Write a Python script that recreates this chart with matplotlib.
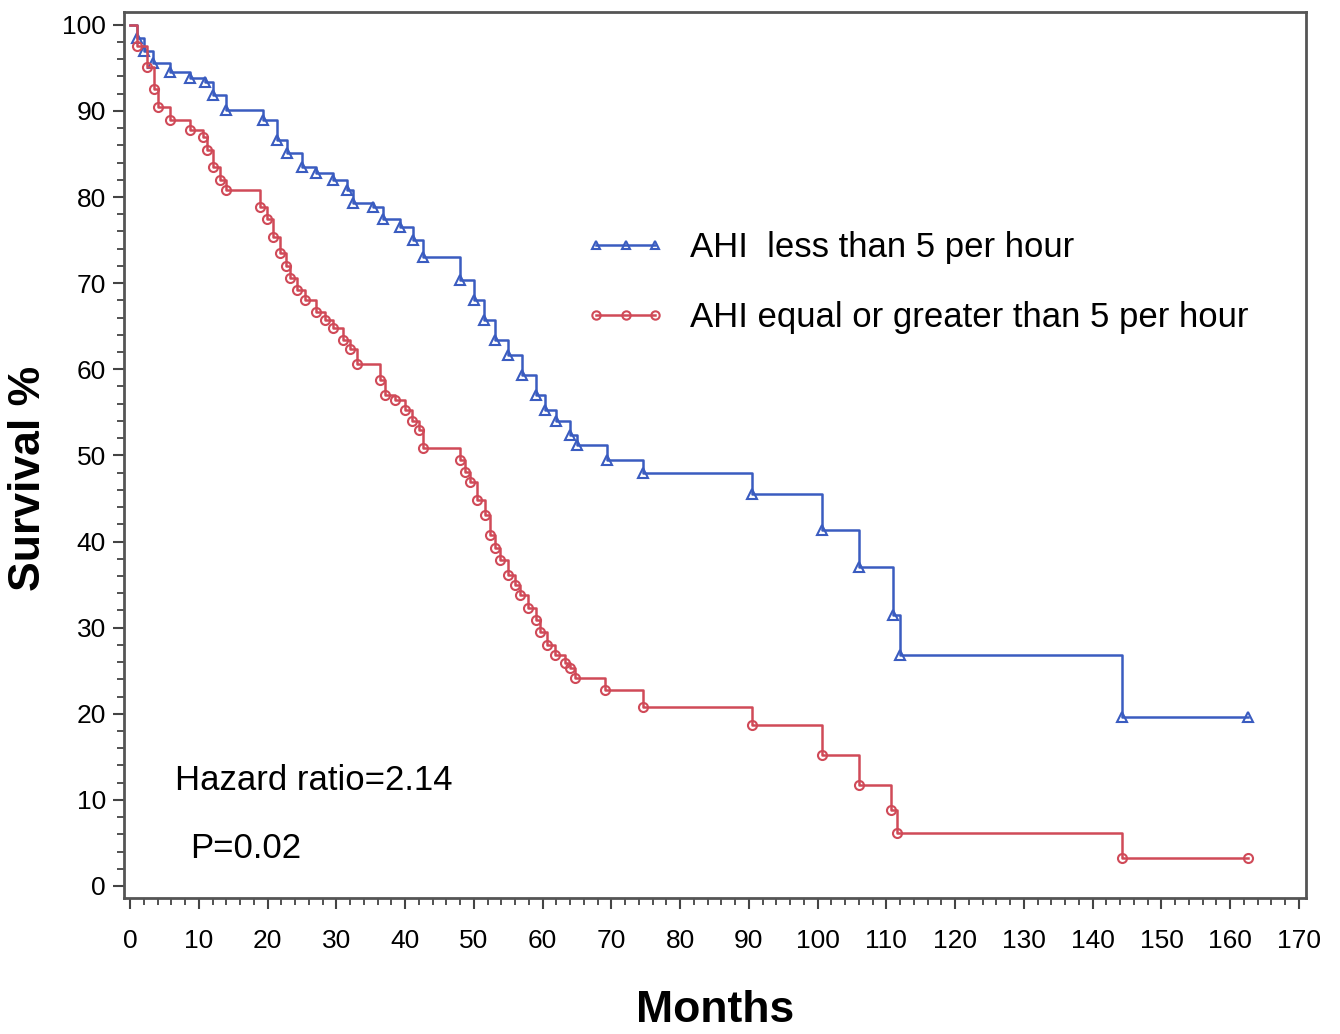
import matplotlib
matplotlib.use('Agg')
import matplotlib.pyplot as plt
from matplotlib.ticker import MultipleLocator

plt.rcParams['font.family'] = ['Liberation Sans', 'DejaVu Sans']

# AHI < 5 per hour (months, survival %)
low_t = [0, 1, 2, 3.3, 5.8, 8.7, 10.9, 12, 14, 19.3, 21.3, 22.8, 25, 27, 29.5,
         31.5, 32.4, 35.3, 36.8, 39.2, 41.1, 42.6, 48, 50, 51.5, 53, 55, 57, 59,
         60.3, 62, 64, 65, 69.3, 74.6, 90.4, 100.6, 106, 111, 112, 144.2, 162.6]
low_s = [100, 98.5, 97, 95.6, 94.5, 93.8, 93.4, 91.9, 90.1, 89, 86.6, 85.1, 83.5,
         82.8, 82, 80.8, 79.3, 78.9, 77.4, 76.5, 75, 73, 70.4, 68, 65.7, 63.4,
         61.7, 59.3, 57, 55.3, 54, 52.4, 51.2, 49.5, 48, 45.5, 41.3, 37, 31.5,
         26.8, 19.6, 19.6]

# AHI >= 5 per hour
high_t = [0, 1, 2.5, 3.4, 4, 5.8, 8.7, 10.6, 11.2, 12, 13, 14, 18.9, 19.9, 20.8,
          21.8, 22.6, 23.3, 24.3, 25.4, 27, 28.3, 29.5, 31, 32, 33, 36.3, 37,
          38.5, 40, 41, 42, 42.6, 48, 48.7, 49.4, 50.4, 51.6, 52.3, 53, 53.8, 55,
          56, 56.7, 57.8, 59, 59.6, 60.6, 61.8, 63.2, 64, 64.7, 69, 74.6, 90.4,
          100.6, 106, 110.6, 111.5, 144.2, 162.6]
high_s = [100, 97.5, 95.1, 92.5, 90.5, 89, 87.8, 87, 85.5, 83.5, 82, 80.8, 78.9,
          77.4, 75.4, 73.5, 72, 70.6, 69.2, 68, 66.7, 65.7, 64.8, 63.4, 62.3,
          60.6, 58.8, 57, 56.4, 55.3, 54, 53, 50.9, 49.5, 48.1, 46.9, 44.8, 43.1,
          40.8, 39.3, 37.9, 36.1, 35, 33.8, 32.3, 30.9, 29.5, 28, 26.8, 25.9,
          25.3, 24.2, 22.8, 20.8, 18.7, 15.2, 11.7, 8.8, 6.2, 3.3, 3.3]

blue = '#3a5cc0'
red = '#d04a58'

fig = plt.figure(figsize=(13.4, 10.34), dpi=100)
ax = fig.add_axes([0.0925, 0.1315, 0.882, 0.857])

ax.step(low_t, low_s, where='post', color=blue, lw=1.8)
ax.plot(low_t[1:], low_s[1:], ls='none', marker='^', ms=6.5, mfc='none',
        mec=blue, mew=1.5)
ax.step(high_t, high_s, where='post', color=red, lw=1.8)
ax.plot(high_t[1:], high_s[1:], ls='none', marker='o', ms=6.5, mfc='none',
        mec=red, mew=1.5)

# legend handles (line + 3 markers)
h1, = ax.plot([], [], color=blue, lw=1.8, marker='^', ms=6, mfc='none', mec=blue, mew=1.5)
h2, = ax.plot([], [], color=red, lw=1.8, marker='o', ms=6, mfc='none', mec=red, mew=1.5)
ax.legend([h1, h2], ['AHI  less than 5 per hour', 'AHI equal or greater than 5 per hour'],
          loc='upper left', bbox_to_anchor=(0.376, 0.772), frameon=False,
          numpoints=3, fontsize=25, handlelength=2.3, handletextpad=0.7,
          labelspacing=1.05, borderpad=0)

ax.text(6.5, 12.3, 'Hazard ratio=2.14', fontsize=25, va='center', ha='left')
ax.text(8.7, 4.4, 'P=0.02', fontsize=25, va='center', ha='left')

ax.set_xlim(-0.9, 171.0)
ax.set_ylim(-1.4, 101.5)
ax.xaxis.set_major_locator(MultipleLocator(10))
ax.xaxis.set_minor_locator(MultipleLocator(2))
ax.yaxis.set_major_locator(MultipleLocator(10))
ax.yaxis.set_minor_locator(MultipleLocator(2))
ax.tick_params(which='major', length=8, width=1.5, color='#444444', labelsize=19)
ax.tick_params(which='minor', length=5, width=1.3, color='#444444')
ax.tick_params(axis='x', pad=14)
ax.tick_params(axis='y', pad=5)
for sp in ax.spines.values():
    sp.set_color('#555555')
    sp.set_linewidth(2)

ax.set_xlabel('Months', fontsize=32, fontweight='bold')
ax.set_ylabel('Survival %', fontsize=32, fontweight='bold')
ax.xaxis.set_label_coords(0.5, -0.104)
ax.yaxis.set_label_coords(-0.063, 0.474)

fig.savefig('out.png', dpi=100)
